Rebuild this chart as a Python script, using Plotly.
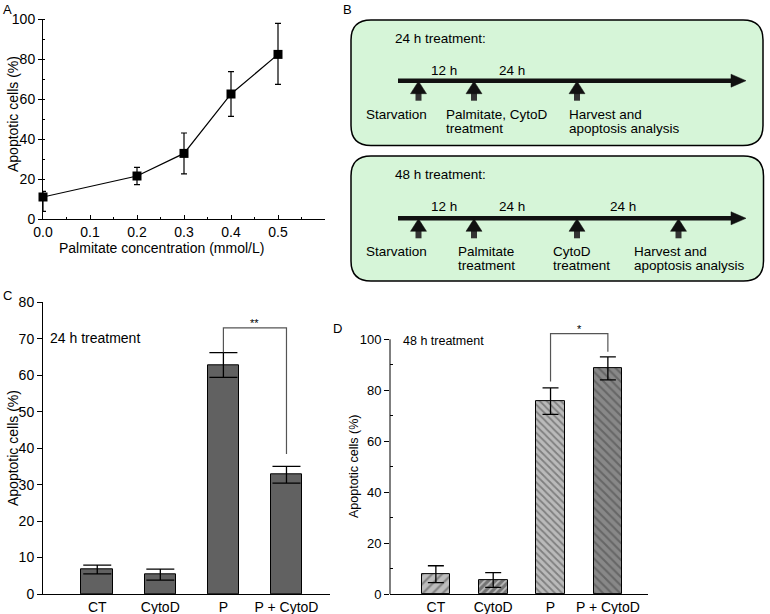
import plotly.graph_objects as go

W, H = 770, 614
FONT = "Liberation Sans, Arial, sans-serif"

# ---------------- data ----------------
# Panel A
conc = [0.0, 0.2, 0.3, 0.4, 0.5]
apop_a = [11.0, 21.5, 32.8, 62.5, 82.3]
err_a_plus = [2.8, 4.3, 10.2, 11.2, 15.5]
err_a_minus = [7.2, 4.3, 10.2, 11.2, 15.0]
a_ticks = [0.0, 0.1, 0.2, 0.3, 0.4, 0.5]

# Panel C (24 h)
cats = ["CT", "CytoD", "P", "P + CytoD"]
apop_c = [6.7, 5.3, 62.8, 32.7]
err_c = [1.2, 1.5, 3.4, 2.3]

# Panel D (48 h)
apop_d = [7.8, 5.5, 75.7, 88.6]
err_d = [3.3, 2.9, 5.2, 4.5]

# significance brackets: (left idx, right idx, top, left leg end, right leg end, label)
sig_c = (2, 3, 73.0, 66.3, 38.4, "**")
sig_d = (2, 3, 102.2, 83.4, 95.1, "*")

# ---------------- helpers ----------------
def dx(x0, x1):
    return [x0 / W, x1 / W]

def dy(ytop, ybot):
    return [1 - ybot / H, 1 - ytop / H]

fig = go.Figure()

# Panel A trace
fig.add_trace(go.Scatter(
    x=conc, y=apop_a, mode="lines+markers",
    line=dict(color="black", width=1.2),
    marker=dict(symbol="square", size=9, color="black"),
    error_y=dict(type="data", array=err_a_plus, arrayminus=err_a_minus,
                 color="black", thickness=1.2, width=3),
    xaxis="x", yaxis="y", showlegend=False, cliponaxis=False))

# Panel C
xpos = list(range(len(cats)))
fig.add_trace(go.Bar(
    x=xpos, y=apop_c, width=0.5,
    marker=dict(color="#616161", line=dict(color="black", width=1)),
    error_y=dict(type="data", array=err_c, color="black", thickness=1.3, width=14),
    xaxis="x2", yaxis="y2", showlegend=False))

# Panel D
fig.add_trace(go.Bar(
    x=xpos, y=apop_d, width=0.5,
    marker=dict(
        color=["#bdbdbd", "#747474", "#bababa", "#888888"],
        line=dict(color="black", width=1),
        pattern=dict(shape=["/", "/", "\\", "\\"],
                     fgcolor=["#202020", "#1a1a1a", "#202020", "#1a1a1a"],
                     size=[7, 5, 5, 6], solidity=[0.3, 0.35, 0.35, 0.35],
                     fillmode="overlay")),
    error_y=dict(type="data", array=err_d, color="black", thickness=1.3, width=8),
    xaxis="x3", yaxis="y3", showlegend=False))

tickfont = dict(family=FONT, size=14, color="black")

common = dict(automargin=False, showgrid=False, zeroline=False)

layout = dict(
    width=W, height=H, margin=dict(l=0, r=0, t=0, b=0, pad=0, autoexpand=False),
    paper_bgcolor="white", plot_bgcolor="rgba(0,0,0,0)",
    font=dict(family=FONT, color="black"),
    bargap=0,
    # Panel A axes
    xaxis=dict(domain=dx(43, 325), range=[0, 0.6], anchor="y",
               tickvals=a_ticks, ticktext=[f"{v:.1f}" for v in a_ticks],
               ticks="inside", ticklen=4, tickcolor="black", showline=True,
               linecolor="black", linewidth=1, tickfont=tickfont,
               minor=dict(dtick=0.05, ticks="inside", ticklen=2, tickcolor="black"),
               **common),
    yaxis=dict(domain=dy(19, 219), range=[0, 100], anchor="x",
               tickvals=[0, 20, 40, 60, 80, 100], ticks="outside", ticklen=4,
               tickcolor="black", showline=True, linecolor="black", linewidth=1,
               tickfont=tickfont,
               minor=dict(dtick=10, ticks="inside", ticklen=2, tickcolor="black"),
               **common),
    # Panel C axes
    xaxis2=dict(domain=dx(43, 330), range=[-0.86, 3.69], anchor="y2",
                tickvals=xpos, ticktext=cats, ticks="", showline=True,
                linecolor="black", linewidth=1, tickfont=tickfont, **common),
    yaxis2=dict(domain=dy(302.3, 594), range=[0, 80], anchor="x2",
                dtick=10, ticks="outside", ticklen=5, tickcolor="black",
                showline=True, linecolor="black", linewidth=1, tickfont=tickfont,
                **common),
    # Panel D axes
    xaxis3=dict(domain=dx(390, 648), range=[-0.8, 3.7], anchor="y3",
                tickvals=xpos, ticktext=cats, ticks="", showline=True,
                linecolor="black", linewidth=1, tickfont=tickfont, **common),
    yaxis3=dict(domain=dy(594 - 104 * 2.547, 594), range=[0, 104], anchor="x3",
                tickvals=[0, 20, 40, 60, 80, 100], ticks="outside", ticklen=5,
                tickcolor="black", showline=False,
                tickfont=dict(family=FONT, size=13, color="black"),
                minor=dict(tickvals=[10, 30, 50, 70, 90], ticks="inside", ticklen=3,
                           tickcolor="black"),
                **common),
    # overlay pixel axes for schematic / labels
    xaxis4=dict(domain=[0, 1], range=[0, W], visible=False, anchor="y4",
                fixedrange=True, automargin=False),
    yaxis4=dict(domain=[0, 1], range=[H, 0], visible=False, anchor="x4",
                fixedrange=True, automargin=False),
)
fig.update_layout(**layout)

shapes = []
annots = []

# D y-axis line up to 100
shapes.append(dict(type="line", xref="x3 domain", yref="y3", x0=0, x1=0, y0=0, y1=100,
                   line=dict(color="black", width=1)))

# brackets
def bracket(sig, xa, ya, color="#555555"):
    l, r, top, lend, rend, lab = sig
    shapes.append(dict(type="path", xref=xa, yref=ya,
                       path=f"M {l} {lend} L {l} {top} L {r} {top} L {r} {rend}",
                       line=dict(color=color, width=1.2)))
    annots.append(dict(x=(l + r) / 2, y=top, xref=xa, yref=ya, text=lab,
                       showarrow=False, yanchor="bottom", yshift=-3,
                       font=dict(family=FONT, size=11, color="black")))

bracket(sig_c, "x2", "y2")
bracket(sig_d, "x3", "y3")

def px_text(x, y, text, size=13.5, xanchor="left", yanchor="middle", angle=0):
    annots.append(dict(x=x, y=y, xref="x4", yref="y4", text=text, showarrow=False,
                       xanchor=xanchor, yanchor=yanchor, textangle=angle,
                       font=dict(family=FONT, size=size, color="black")))

# axis titles
px_text(13, 114, "Apoptotic cells (%)", 14, xanchor="center", angle=-90)
px_text(161.5, 248, "Palmitate concentration (mmol/L)", 14, xanchor="center")
px_text(13, 448, "Apoptotic cells (%)", 14, xanchor="center", angle=-90)
px_text(354, 466, "Apoptotic cells (%)", 12.5, xanchor="center", angle=-90)

# panel letters
px_text(1, 9, "A", 13)
px_text(341, 9, "B", 13)
px_text(1, 295, "C", 13)
px_text(331, 328, "D", 13)

# treatment labels in C & D
px_text(48, 338, "24 h treatment", 14)
px_text(401, 341, "48 h treatment", 12.5)

# ---------------- schematic (panel B) ----------------
GREEN = "#d6f5d8"

def rounded_rect(x0, y0, x1, y1, r):
    return (f"M {x0+r} {y0} L {x1-r} {y0} Q {x1} {y0} {x1} {y0+r} "
            f"L {x1} {y1-r} Q {x1} {y1} {x1-r} {y1} L {x0+r} {y1} "
            f"Q {x0} {y1} {x0} {y1-r} L {x0} {y0+r} Q {x0} {y0} {x0+r} {y0} Z")

def timeline(y, arrows_x):
    shapes.append(dict(type="line", xref="x4", yref="y4", x0=398, x1=734, y0=y, y1=y,
                       line=dict(color="#111111", width=4.5)))
    shapes.append(dict(type="path", xref="x4", yref="y4",
                       path=f"M 731 {y-6.5} L 746 {y} L 731 {y+6.5} Z",
                       fillcolor="#111111", line=dict(color="#111111", width=0.5)))
    for ax in arrows_x:
        shapes.append(dict(type="rect", xref="x4", yref="y4", x0=ax - 3, x1=ax + 3,
                           y0=y + 11, y1=y + 20, fillcolor="#333333", line=dict(width=0)))
        shapes.append(dict(type="path", xref="x4", yref="y4",
                           path=f"M {ax-8} {y+13} L {ax} {y+0.5} L {ax+8} {y+13} Z",
                           fillcolor="#111111", line=dict(color="#111111", width=0.5)))

# box 1
shapes.append(dict(type="path", xref="x4", yref="y4", path=rounded_rect(351, 20, 763, 145.5, 20),
                   fillcolor=GREEN, line=dict(color="black", width=1.5), layer="below"))
px_text(392.5, 38.5, "24 h treatment:")
px_text(443.5, 70.5, "12 h", xanchor="center")
px_text(511.5, 70.5, "24 h", xanchor="center")
timeline(80.7, [418.5, 474, 577])
px_text(363.5, 114.5, "Starvation")
px_text(444, 114.5, "Palmitate, CytoD")
px_text(444, 128, "treatment")
px_text(566.5, 114.5, "Harvest and")
px_text(566.5, 128, "apoptosis analysis")

# box 2
shapes.append(dict(type="path", xref="x4", yref="y4", path=rounded_rect(351, 156, 763.5, 281, 20),
                   fillcolor=GREEN, line=dict(color="black", width=1.5), layer="below"))
px_text(392.5, 174, "48 h treatment:")
px_text(443.5, 206, "12 h", xanchor="center")
px_text(511.5, 206, "24 h", xanchor="center")
px_text(623, 206, "24 h", xanchor="center")
timeline(218.3, [418.5, 474, 577, 678.5])
px_text(363.5, 251, "Starvation")
px_text(455.5, 251, "Palmitate")
px_text(455.5, 265.5, "treatment")
px_text(551, 251, "CytoD")
px_text(551, 265.5, "treatment")
px_text(631.5, 251, "Harvest and")
px_text(631.5, 265.5, "apoptosis analysis")

fig.update_layout(shapes=shapes, annotations=annots)
fig.write_html("out.html", config={"displayModeBar": False},
               post_script="document.body.style.margin='0';document.body.style.overflow='hidden';")
